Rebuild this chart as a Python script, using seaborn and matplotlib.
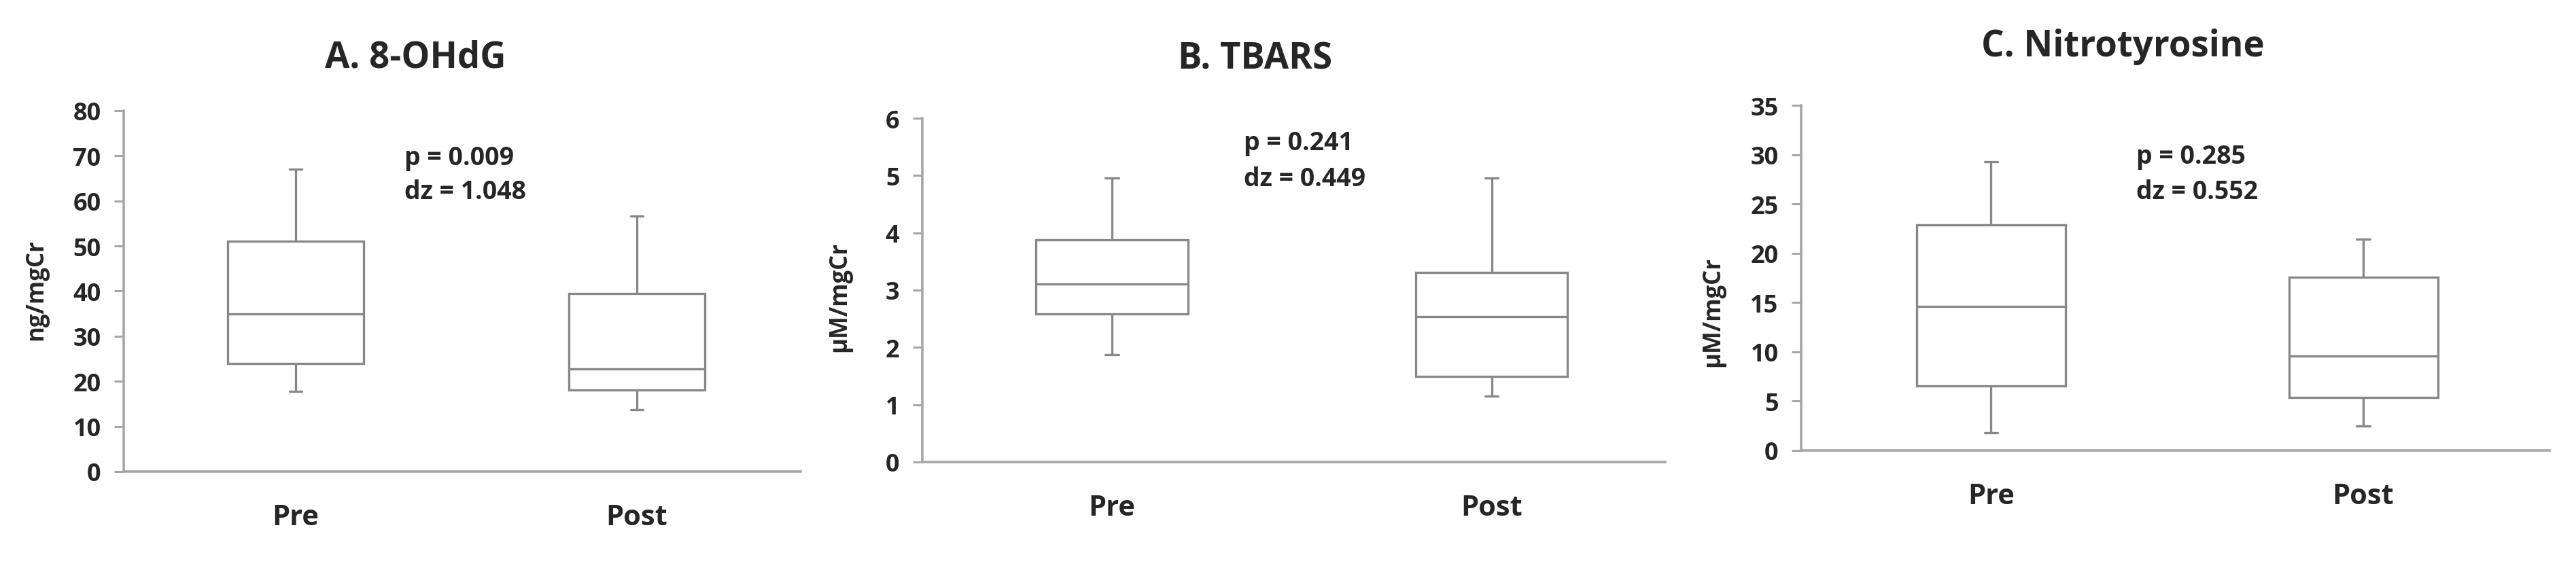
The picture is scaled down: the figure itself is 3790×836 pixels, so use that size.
import matplotlib.pyplot as plt
import pandas as pd
import seaborn as sns

# values: whisker low, Q1, median, Q3, whisker high
groups = ["Pre", "Post"]

ohdg_pre = [17.7, 24.0, 34.9, 51.1, 67.0]
ohdg_post = [13.7, 18.1, 22.7, 39.4, 56.6]

tbars_pre = [1.87, 2.58, 3.11, 3.88, 4.96]
tbars_post = [1.15, 1.49, 2.54, 3.31, 4.96]

nitro_pre = [1.8, 6.55, 14.6, 22.9, 29.3]
nitro_post = [2.5, 5.37, 9.6, 17.6, 21.4]

titles = ["A. 8-OHdG", "B. TBARS", "C. Nitrotyrosine"]
ylabels = ["ng/mgCr", "\u00b5M/mgCr", "\u00b5M/mgCr"]
p_texts = ["p = 0.009", "p = 0.241", "p = 0.285"]
dz_texts = ["dz = 1.048", "dz = 0.449", "dz = 0.552"]
ymax = [80, 6, 35]
ystep = [10, 1, 5]

sns.set_style("ticks")
plt.rcParams["font.family"] = ["Open Sans", "DejaVu Sans"]
plt.rcParams["font.weight"] = "bold"

LINE = "#888888"
AXIS = "#a6a6a6"


def make_df(pre, post):
    return pd.DataFrame({
        "group": ["Pre"] * len(pre) + ["Post"] * len(post),
        "value": pre + post,
    })


frames = [
    make_df(ohdg_pre, ohdg_post),
    make_df(tbars_pre, tbars_post),
    make_df(nitro_pre, nitro_post),
]

fig = plt.figure(figsize=(37.9, 8.37), dpi=100)

# axes boxes (left, bottom, width, height) in figure fractions
boxes = [
    (0.0480, 0.1697, 0.2628, 0.6344),
    (0.3580, 0.1864, 0.2884, 0.6045),
    (0.6992, 0.2067, 0.2905, 0.6069),
]
xlims = [(-0.504, 1.48), (-0.50, 1.457), (-0.51, 1.50)]
title_pos = [(0.1612, 0.898), (0.4873, 0.895), (0.824, 0.9176)]
ylabel_pos = [(0.014, 0.49), (0.326, 0.478), (0.665, 0.452)]
ann_pos = [(0.319, 69.6, 62.1), (0.348, 5.57, 4.94), (0.39, 29.8, 26.25)]

for i, df in enumerate(frames):
    ax = fig.add_axes(boxes[i])
    sns.boxplot(
        data=df,
        x="group",
        y="value",
        order=groups,
        whis=(0, 100),
        width=0.4,
        color="white",
        linecolor=LINE,
        linewidth=2.4,
        capwidths=0.035,
        ax=ax,
    )
    ax.set_xlim(*xlims[i])
    ax.set_ylim(0, ymax[i])
    ax.set_yticks(range(0, ymax[i] + 1, ystep[i]))
    ax.set_xlabel("")
    ax.set_ylabel("")
    sns.despine(ax=ax)
    for side in ["left", "bottom"]:
        ax.spines[side].set_color(AXIS)
        ax.spines[side].set_linewidth(2.6)
    ax.tick_params(axis="y", length=10, width=2.2, color=AXIS,
                   labelsize=26, pad=14)
    ax.tick_params(axis="x", length=0, labelsize=30, pad=34)
    for lab in ax.get_xticklabels() + ax.get_yticklabels():
        lab.set_fontweight("bold")

    tx, py, dy = ann_pos[i]
    ax.text(tx, py, p_texts[i], fontsize=27, fontweight="bold", va="center")
    ax.text(tx, dy, dz_texts[i], fontsize=27, fontweight="bold", va="center")

    fig.text(*title_pos[i], titles[i], fontsize=38, fontweight="bold",
             ha="center", va="center")
    fig.text(*ylabel_pos[i], ylabels[i], fontsize=25, fontweight="bold",
             rotation=90, ha="center", va="center")

fig.savefig("out.png", dpi=100, facecolor="white")
